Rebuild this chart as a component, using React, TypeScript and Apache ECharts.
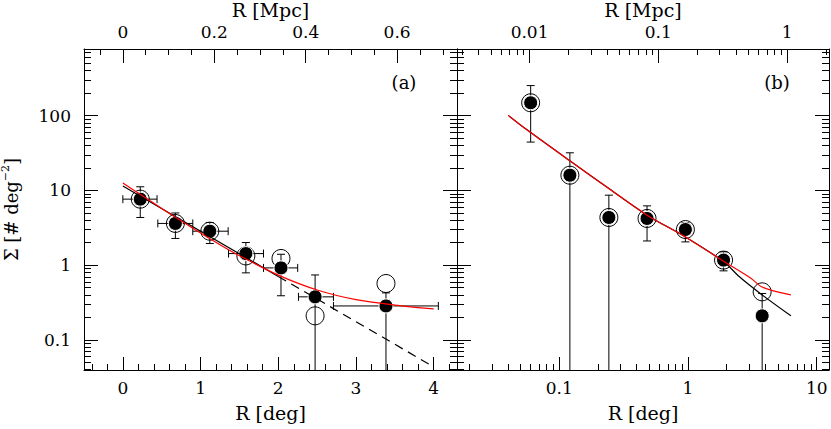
import React, { useEffect, useRef } from "react";
import * as echarts from "echarts";

const FONT = "DejaVu Serif";
const MPC_PER_DEG = 0.17;

// axis ranges
const SIGMA_MIN = 0.0396;
const SIGMA_MAX = 781;
const A_R_MIN = -0.5;
const A_R_MAX = 4.3;
const B_R_MIN = 0.01607;
const B_R_MAX = 12.46;

// tick labels
const A_R_TICKS = [0, 1, 2, 3, 4];
const A_MPC_TICKS = [0, 0.2, 0.4, 0.6];
const SIGMA_TICKS = [0.1, 1, 10, 100];
const B_R_TICKS = [0.1, 1, 10];
const B_MPC_TICKS = [0.01, 0.1, 1];

// ---- Panel (a): linear R ----
const aR = [0.224, 0.676, 1.119, 1.583, 2.035, 2.474, 3.386];
const aSigma = [7.65, 3.62, 2.85, 1.43, 0.92, 0.377, 0.285];
const aSigmaLo = [4.35, 2.28, 1.95, 0.79, 0.39, 0, 0];
const aSigmaHi = [11.2, 5.0, 3.73, 2.01, 1.4, 0.74, 0.426];
const aRLo = [0.0, 0.45, 0.9, 1.36, 1.81, 2.26, 2.71];
const aRHi = [0.44, 0.9, 1.355, 1.81, 2.25, 2.71, 4.06];
const aOpenSigma = [7.65, 3.62, 2.85, 1.33, 1.23, 0.21, 0.569];

const aRedR = [0, 0.25, 0.5, 0.75, 1, 1.25, 1.5, 2, 2.5, 3, 3.5, 4];
const aRedSigma = [12.6, 8.49, 5.75, 3.92, 2.7, 1.88, 1.34, 0.736, 0.466, 0.346, 0.293, 0.26];
const aBlackR = [0, 2.0];
const aBlackSigma = [11.5, 0.707];
const aDashR = [2.0, 4.0];
const aDashSigma = [0.707, 0.0436];

// ---- Panel (b): log R ----
const bR = [0.06, 0.121, 0.243, 0.481, 0.955, 1.89, 3.77];
const bSigma = [149, 16.0, 4.35, 4.22, 3.0, 1.17, 0.21];
const bSigmaLo = [44.4, 0, 0, 2.11, 2.05, 0.84, 0];
const bSigmaHi = [253, 31.9, 8.65, 6.22, 3.7, 1.51, 0.418];
const bOpenSigma = [149, 16.0, 4.35, 4.22, 3.0, 1.17, 0.44];

const bRedR = [0.0402, 0.0565, 0.121, 0.243, 0.481, 0.955, 1.89, 3.1, 3.77, 6.3];
const bRedSigma = [101, 64.2, 24.9, 10.6, 4.67, 2.39, 1.13, 0.664, 0.51, 0.4];
const bBlackR = [0.0402, 0.0565, 0.121, 0.243, 0.481, 0.955, 1.89, 2.51, 3.77, 6.3];
const bBlackSigma = [101, 64.2, 24.9, 10.6, 4.67, 2.39, 1.12, 0.7, 0.4, 0.21];

function linearMinors(min: number, max: number, step: number, majors: number[]) {
  const out: number[] = [];
  const start = Math.ceil(min / step - 1e-9);
  for (let i = start; i * step <= max + 1e-9; i++) {
    const v = +(i * step).toFixed(6);
    if (!majors.some((m) => Math.abs(m - v) < 1e-9)) out.push(v);
  }
  return out;
}
function logMinors(min: number, max: number) {
  const out: number[] = [];
  for (let e = Math.floor(Math.log10(min)); e <= Math.ceil(Math.log10(max)); e++) {
    for (let k = 2; k <= 9; k++) {
      const v = +(k * Math.pow(10, e)).toPrecision(6);
      if (v >= min && v <= max) out.push(v);
    }
  }
  return out;
}

const BLACK = "#000";
const RED = "#ff0000";
const labelBase = { color: BLACK, fontFamily: FONT, fontSize: 17 };
const nameBase = { color: BLACK, fontFamily: FONT, fontSize: 19 };

function axisPair(o: any) {
  const common = {
    type: o.type,
    gridIndex: o.grid,
    position: o.position,
    min: o.min,
    max: o.max,
    ...(o.type === "log" ? { logBase: 10 } : {}),
    splitLine: { show: false },
    minorTick: { show: false },
    minorSplitLine: { show: false },
    silent: true,
  };
  const nameProps = o.name
    ? {
        name: o.name,
        nameLocation: "middle",
        nameGap: o.nameGap,
        nameRotate: o.nameRotate,
        nameMoveOverlap: false,
        nameTextStyle: o.nameTextStyle || { ...nameBase },
      }
    : {};
  const major = {
    ...common,
    axisLine: { show: true, onZero: false, lineStyle: { color: BLACK, width: 1 } },
    axisTick: {
      show: true,
      inside: true,
      length: o.majorLen,
      customValues: o.majors,
      lineStyle: { color: BLACK, width: 1 },
    },
    axisLabel: o.labels
      ? {
          show: true,
          customValues: o.majors,
          formatter: (v: number) => String(+v.toPrecision(6)),
          margin: o.margin,
          ...labelBase,
        }
      : { show: false },
    ...nameProps,
  };
  const minor = {
    ...common,
    axisLine: { show: false, onZero: false },
    axisTick: {
      show: true,
      inside: true,
      length: o.minorLen,
      customValues: o.minors,
      lineStyle: { color: BLACK, width: 1 },
    },
    axisLabel: { show: false },
  };
  return [major, minor];
}

function errRender(hasX: boolean) {
  return (params: any, api: any) => {
    const x = api.value(0);
    const y = api.value(1);
    const lo = api.value(2);
    const hi = api.value(3);
    const capLo = api.value(4);
    const style = { stroke: BLACK, lineWidth: 1, fill: "none" };
    const children: any[] = [];
    const pLo = api.coord([x, lo]);
    const pHi = api.coord([x, hi]);
    const cap = 4;
    children.push({ type: "line", shape: { x1: pLo[0], y1: pLo[1], x2: pHi[0], y2: pHi[1] }, style });
    children.push({ type: "line", shape: { x1: pHi[0] - cap, y1: pHi[1], x2: pHi[0] + cap, y2: pHi[1] }, style });
    if (capLo > 0) {
      children.push({ type: "line", shape: { x1: pLo[0] - cap, y1: pLo[1], x2: pLo[0] + cap, y2: pLo[1] }, style });
    }
    if (hasX) {
      const xl = api.coord([api.value(5), y]);
      const xh = api.coord([api.value(6), y]);
      children.push({ type: "line", shape: { x1: xl[0], y1: xl[1], x2: xh[0], y2: xh[1] }, style });
      children.push({ type: "line", shape: { x1: xl[0], y1: xl[1] - cap, x2: xl[0], y2: xl[1] + cap }, style });
      children.push({ type: "line", shape: { x1: xh[0], y1: xh[1] - cap, x2: xh[0], y2: xh[1] + cap }, style });
    }
    return { type: "group", children };
  };
}

export default function App() {
  const ref = useRef<HTMLDivElement>(null);
  useEffect(() => {
    if (!ref.current) return;
    const chart = echarts.init(ref.current, null, { renderer: "svg" });

    const gridTop = 49;
    const gridH = 321;
    const grids = [
      { left: 84, top: gridTop, width: 373, height: gridH, containLabel: false, outerBoundsMode: "none" },
      { left: 457, top: gridTop, width: 372, height: gridH, containLabel: false, outerBoundsMode: "none" },
    ];

    const sigmaMinors = logMinors(SIGMA_MIN, SIGMA_MAX);
    const X_MAJ = 13, X_MIN = 6, Y_MAJ = 14, Y_MIN = 7;

    const xAxes = [
      ...axisPair({
        type: "value", grid: 0, position: "bottom", min: A_R_MIN, max: A_R_MAX,
        majors: A_R_TICKS, minors: linearMinors(A_R_MIN, A_R_MAX, 0.2, A_R_TICKS),
        majorLen: X_MAJ, minorLen: X_MIN, labels: true, margin: 9, name: "R [deg]", nameGap: 33,
      }),
      ...axisPair({
        type: "value", grid: 0, position: "top", min: A_R_MIN * MPC_PER_DEG, max: A_R_MAX * MPC_PER_DEG,
        majors: A_MPC_TICKS,
        minors: linearMinors(A_R_MIN * MPC_PER_DEG, A_R_MAX * MPC_PER_DEG, 0.05, A_MPC_TICKS),
        majorLen: X_MAJ + 1, minorLen: X_MIN, labels: true, margin: 9, name: "R [Mpc]", nameGap: 30,
      }),
      ...axisPair({
        type: "log", grid: 1, position: "bottom", min: B_R_MIN, max: B_R_MAX,
        majors: B_R_TICKS, minors: logMinors(B_R_MIN, B_R_MAX),
        majorLen: X_MAJ, minorLen: X_MIN, labels: true, margin: 9, name: "R [deg]", nameGap: 33,
      }),
      ...axisPair({
        type: "log", grid: 1, position: "top", min: B_R_MIN * MPC_PER_DEG, max: B_R_MAX * MPC_PER_DEG,
        majors: B_MPC_TICKS, minors: logMinors(B_R_MIN * MPC_PER_DEG, B_R_MAX * MPC_PER_DEG),
        majorLen: X_MAJ + 1, minorLen: X_MIN, labels: true, margin: 9, name: "R [Mpc]", nameGap: 30,
      }),
    ];

    const yName = "{t|Σ [# deg}{s|−2}{t|]}";
    const yAxes = [
      ...axisPair({
        type: "log", grid: 0, position: "left", min: SIGMA_MIN, max: SIGMA_MAX,
        majors: SIGMA_TICKS, minors: sigmaMinors, majorLen: Y_MAJ, minorLen: Y_MIN,
        labels: true, margin: 13, name: yName, nameGap: 62, nameRotate: 90,
        nameTextStyle: {
          rich: {
            t: { fontFamily: FONT, fontSize: 18, color: BLACK, lineHeight: 22 },
            s: { fontFamily: FONT, fontSize: 11, color: BLACK, verticalAlign: "top" },
          },
        },
      }),
      ...axisPair({
        type: "log", grid: 0, position: "right", min: SIGMA_MIN, max: SIGMA_MAX,
        majors: SIGMA_TICKS, minors: sigmaMinors, majorLen: Y_MAJ, minorLen: Y_MIN, labels: false,
      }),
      ...axisPair({
        type: "log", grid: 1, position: "left", min: SIGMA_MIN, max: SIGMA_MAX,
        majors: SIGMA_TICKS, minors: sigmaMinors, majorLen: Y_MAJ, minorLen: Y_MIN, labels: false,
      }),
      ...axisPair({
        type: "log", grid: 1, position: "right", min: SIGMA_MIN, max: SIGMA_MAX,
        majors: SIGMA_TICKS, minors: sigmaMinors, majorLen: Y_MAJ, minorLen: Y_MIN, labels: false,
      }),
    ];

    const aErr = aR.map((r, i) => [
      r, aSigma[i], Math.max(aSigmaLo[i], SIGMA_MIN), aSigmaHi[i], aSigmaLo[i] > 0 ? 1 : 0, aRLo[i], aRHi[i],
    ]);
    const bErr = bR.map((r, i) => [
      r, bSigma[i], Math.max(bSigmaLo[i], SIGMA_MIN), bSigmaHi[i], bSigmaLo[i] > 0 ? 1 : 0,
    ]);
    const pairs = (xs: number[], ys: number[]) => xs.map((x, i) => [x, ys[i]]);

    const line = (xi: number, xs: number[], ys: number[], color: string, z: number, dashed = false, smooth: any = false) => ({
      type: "line",
      xAxisIndex: xi,
      yAxisIndex: xi,
      data: pairs(xs, ys),
      symbol: "none",
      smooth,
      z,
      lineStyle: { color, width: 1.2, type: dashed ? [9, 6] : "solid" },
      silent: true,
    });
    const openPts = (xi: number, xs: number[], ys: number[]) => ({
      type: "scatter",
      xAxisIndex: xi,
      yAxisIndex: xi,
      data: pairs(xs, ys),
      symbol: "circle",
      symbolSize: 18,
      z: 3,
      itemStyle: { color: "rgba(0,0,0,0)", borderColor: BLACK, borderWidth: 1, opacity: 1 },
      silent: true,
    });
    const filledPts = (xi: number, xs: number[], ys: number[]) => ({
      type: "scatter",
      xAxisIndex: xi,
      yAxisIndex: xi,
      data: pairs(xs, ys),
      symbol: "circle",
      symbolSize: 14,
      z: 4,
      itemStyle: { color: BLACK, borderColor: "#fff", borderWidth: 1, opacity: 1 },
      silent: true,
    });

    const txt = (text: string, x: number, y: number, size: number) => ({
      type: "text",
      x,
      y,
      silent: true,
      style: { text, font: `${size}px "${FONT}"`, fill: BLACK, align: "center", verticalAlign: "middle" },
    });

    chart.setOption({
      animation: false,
      backgroundColor: "#fff",
      grid: grids,
      xAxis: xAxes,
      yAxis: yAxes,
      graphic: [txt("(a)", 404, 82, 18), txt("(b)", 777, 82, 18)],
      series: [
        { type: "custom", xAxisIndex: 0, yAxisIndex: 0, data: aErr, encode: { x: 0, y: 1 }, renderItem: errRender(true), z: 2, silent: true },
        { type: "custom", xAxisIndex: 4, yAxisIndex: 4, data: bErr, encode: { x: 0, y: 1 }, renderItem: errRender(false), z: 2, silent: true },
        openPts(0, aR, aOpenSigma),
        filledPts(0, aR, aSigma),
        openPts(4, bR, bOpenSigma),
        filledPts(4, bR, bSigma),
        line(0, aBlackR, aBlackSigma, BLACK, 5),
        line(0, aDashR, aDashSigma, BLACK, 5, true),
        line(0, aRedR, aRedSigma, RED, 6, false, 0.3),
        line(4, bBlackR, bBlackSigma, BLACK, 5, false, 0.3),
        line(4, bRedR, bRedSigma, RED, 6, false, 0.3),
      ],
    });
    return () => chart.dispose();
  }, []);
  return (
    <div
      ref={ref}
      style={{ position: "fixed", left: 0, top: 0, width: 831, height: 429, background: "#fff" }}
    />
  );
}
